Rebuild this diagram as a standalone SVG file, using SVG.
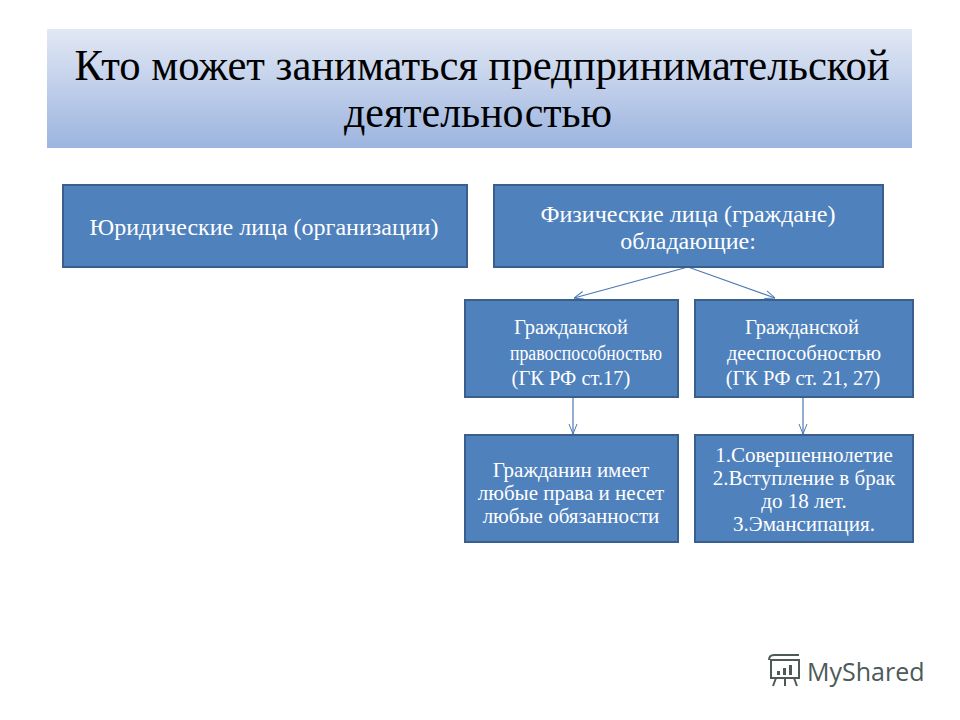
<svg xmlns="http://www.w3.org/2000/svg" width="960" height="720" viewBox="0 0 960 720">
<defs>
<linearGradient id="tg" x1="0" y1="0" x2="0" y2="1">
<stop offset="0" stop-color="#e2e8f4"/>
<stop offset="1" stop-color="#9cb4df"/>
</linearGradient>
<marker id="arr" viewBox="0 0 10 10" refX="10" refY="5" markerWidth="10" markerHeight="10" orient="auto" markerUnits="userSpaceOnUse">
<path d="M0,1 L10,5 L0,9" fill="none" stroke="#4a7ab4" stroke-width="1"/>
</marker>
<style>
.box{fill:#4f81bd;stroke:#3a5f8c;stroke-width:2}
.bt{fill:#ffffff;text-anchor:middle}
.title{fill:#000;font-size:45px;text-anchor:middle}
.con{stroke:#4a7ab4;stroke-width:1.2;fill:none}
</style>
</defs>
<rect width="960" height="720" fill="#ffffff"/>
<g id="title" font-family="Liberation Serif, DejaVu Serif, serif">
<rect x="47" y="29" width="865" height="119" fill="url(#tg)"/>
<text class="title" x="482" y="80" textLength="815" lengthAdjust="spacingAndGlyphs">Кто может заниматься предпринимательской</text>
<text class="title" x="478" y="127" textLength="268" lengthAdjust="spacingAndGlyphs">деятельностью</text>
</g>
<g id="connectors">
<line class="con" x1="688" y1="267" x2="574" y2="298" marker-end="url(#arr)"/>
<line class="con" x1="688" y1="267" x2="775" y2="298" marker-end="url(#arr)"/>
<line class="con" x1="573" y1="398" x2="573" y2="434" marker-end="url(#arr)"/>
<line class="con" x1="803" y1="398" x2="803" y2="434" marker-end="url(#arr)"/>
</g>
<g id="n-legal" font-family="Liberation Serif, DejaVu Serif, serif">
<rect class="box" x="63" y="185" width="404" height="82"/>
<text class="bt" x="264" y="235" font-size="24">Юридические лица (организации)</text>
</g>
<g id="n-natural" font-family="Liberation Serif, DejaVu Serif, serif">
<rect class="box" x="494" y="185" width="389" height="82"/>
<text class="bt" x="688" y="222" font-size="24">Физические лица (граждане)</text>
<text class="bt" x="688" y="249" font-size="24">обладающие:</text>
</g>
<g id="n-capacity" font-family="Liberation Serif, DejaVu Serif, serif">
<rect class="box" x="465" y="300" width="213" height="97"/>
<text class="bt" x="571" y="334" font-size="20.5">Гражданской</text>
<text fill="#ffffff" x="510" y="360" font-size="20.5" textLength="152" lengthAdjust="spacingAndGlyphs">правоспособностью</text>
<text class="bt" x="571" y="385" font-size="20.5">(ГК РФ ст.17)</text>
</g>
<g id="n-legal-capacity" font-family="Liberation Serif, DejaVu Serif, serif">
<rect class="box" x="695" y="300" width="218" height="97"/>
<text class="bt" x="802" y="334" font-size="20.5">Гражданской</text>
<text class="bt" x="804" y="360" font-size="20.5">дееспособностью</text>
<text class="bt" x="803" y="385" font-size="20.5">(ГК РФ ст. 21, 27)</text>
</g>
<g id="n-rights" font-family="Liberation Serif, DejaVu Serif, serif">
<rect class="box" x="465" y="435" width="213" height="107"/>
<text class="bt" x="571" y="477" font-size="21">Гражданин имеет</text>
<text class="bt" x="571" y="500" font-size="21">любые права и несет</text>
<text class="bt" x="571" y="523" font-size="21">любые обязанности</text>
</g>
<g id="n-conditions" font-family="Liberation Serif, DejaVu Serif, serif">
<rect class="box" x="695" y="435" width="218" height="107"/>
<text class="bt" x="804" y="462" font-size="21">1.Совершеннолетие</text>
<text class="bt" x="804" y="485" font-size="21">2.Вступление в брак</text>
<text class="bt" x="804" y="508" font-size="21">до 18 лет.</text>
<text class="bt" x="804" y="531" font-size="21">3.Эмансипация.</text>
</g>
<g id="logo" fill="none" stroke="#4d5a57" stroke-width="2">
<rect x="771" y="660" width="28" height="18"/>
<path d="M769,660 q0,-5 5,-5 h25 M776,678 l-3,8 M785,678 v8 M794,678 l3,8"/>
<rect x="777" y="671" width="3" height="4" fill="#4d5a57" stroke="none"/>
<rect x="783" y="668" width="3" height="7" fill="#4d5a57" stroke="none"/>
<rect x="789" y="665" width="3" height="10" fill="#4d5a57" stroke="none"/>
<text x="807" y="681" fill="#4d5a57" stroke="none" font-family="Open Sans, Noto Sans, sans-serif" font-size="25">MyShared</text>
</g>
</svg>
